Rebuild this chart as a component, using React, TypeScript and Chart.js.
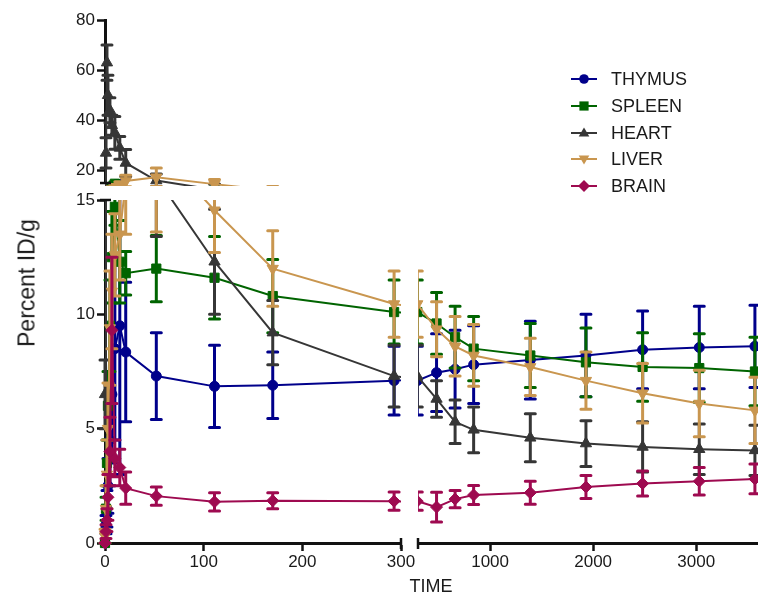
import React, { useEffect, useRef } from "react";
import { Chart, registerables } from "chart.js";

Chart.register(...registerables);

// ---------------- data ----------------
const TIMES = [0, 1, 2, 3, 5, 7, 10, 15, 21, 52, 111, 170, 293, 480, 660, 840, 1390, 1930, 2480, 3030, 3570];

const THYMUS = [0, 0.8, 1.5, 2.5, 4.5, 6.5, 8.5, 9.5, 8.35, 7.3, 6.85, 6.9, 7.1, 7.45, 7.6, 7.8, 8.0, 8.2, 8.45, 8.55, 8.6];
const THYMUS_ERR = [0, 0.4, 0.8, 1.2, 2, 3, 4, 6.5, 3.05, 1.9, 1.8, 1.45, 1.5, 1.7, 1.7, 1.7, 1.7, 1.8, 1.7, 1.8, 1.8];

const SPLEEN = [0, 1.5, 3.5, 6, 9.5, 12.5, 14.7, 12.3, 11.8, 12.0, 11.6, 10.8, 10.1, 9.6, 9.0, 8.5, 8.2, 7.9, 7.7, 7.65, 7.5];
const SPLEEN_ERR = [0, 0.5, 1, 1.5, 2, 2, 0.8, 1.8, 0.95, 1.45, 1.8, 1.6, 1.4, 1.35, 1.35, 1.4, 1.4, 1.5, 1.5, 1.5, 1.5];

const HEART = [6.5, 27, 63, 50, 44, 38, 35, 29, 23, 16, 12.3, 9.2, 7.3, 6.3, 5.3, 4.95, 4.6, 4.35, 4.2, 4.1, 4.05];
const HEART_ERR = [1.5, 6, 7, 8, 5, 4, 6.5, 4.5, 5.4, 2.6, 2.3, 1.4, 1.35, 0.8, 0.95, 1.0, 1.05, 1.0, 1.1, 1.1, 1.1];

const LIVER = [0.3, 1.5, 3, 5, 9.4, 11, 12.6, 13.5, 15.8, 17.3, 14.55, 12.0, 10.45, 9.35, 8.6, 8.2, 7.7, 7.1, 6.55, 6.1, 5.8];
const LIVER_ERR = [0.3, 1, 1.5, 2, 2.5, 2.5, 1.8, 2, 2.3, 3.7, 1.85, 1.65, 1.45, 1.2, 1.3, 1.35, 1.25, 1.25, 1.3, 1.45, 1.45];

const BRAIN = [0, 0.5, 1, 2, 4, 9.3, 3.7, 3.3, 2.4, 2.05, 1.8, 1.85, 1.83, 1.57, 1.92, 2.1, 2.2, 2.45, 2.6, 2.7, 2.8];
const BRAIN_ERR = [0, 0.3, 0.5, 1, 1.5, 3.2, 0.8, 0.8, 0.7, 0.4, 0.4, 0.35, 0.4, 0.65, 0.38, 0.42, 0.5, 0.5, 0.55, 0.6, 0.65];

const SERIES_NAMES = ["THYMUS", "SPLEEN", "HEART", "LIVER", "BRAIN"];

const X_TICKS_LEFT = [0, 100, 200, 300];
const X_TICKS_RIGHT = [1000, 2000, 3000];
const Y_TICKS_LOW = [0, 5, 10, 15];
const Y_TICKS_HIGH = [20, 40, 60, 80];

const X_TITLE = "TIME";
const Y_TITLE = "Percent ID/g";

// ---------------- styles ----------------
const FONT = "'Liberation Sans', Arial, Helvetica, sans-serif";
const TEXT = "#1a1a1a";
const AXIS = "#111111";

const SERIES = [
  { name: SERIES_NAMES[0], values: THYMUS, errors: THYMUS_ERR, color: "#00008B", style: "circle", radius: 5, rotation: 0, order: 4 },
  { name: SERIES_NAMES[1], values: SPLEEN, errors: SPLEEN_ERR, color: "#006400", style: "rect", radius: 6.5, rotation: 0, order: 3 },
  { name: SERIES_NAMES[2], values: HEART, errors: HEART_ERR, color: "#363636", style: "triangle", radius: 6.5, rotation: 0, order: 2 },
  { name: SERIES_NAMES[3], values: LIVER, errors: LIVER_ERR, color: "#C9964F", style: "triangle", radius: 6.5, rotation: 180, order: 1 },
  { name: SERIES_NAMES[4], values: BRAIN, errors: BRAIN_ERR, color: "#9E0A50", style: "rectRot", radius: 6, rotation: 0, order: 0 },
];

const W = 758;
const H = 595;

type Side = "left" | "right" | "top" | "bottom";
interface Panel {
  xMin: number; xMax: number; yMin: number; yMax: number;
  area: { left: number; top: number; right: number; bottom: number };
  showX: boolean; showY: boolean;
  xTicks: number[]; yTicks: number[];
  clip: { left: number; top: number; right: number; bottom: number };
  breaks: Side[];
}

const PANELS: Panel[] = [
  {
    xMin: 0, xMax: 300, yMin: 0, yMax: 15,
    area: { left: 105, top: 200, right: 401, bottom: 543 },
    showX: true, showY: true, xTicks: X_TICKS_LEFT, yTicks: Y_TICKS_LOW,
    clip: { left: 12, top: 0, right: 0, bottom: 12 }, breaks: ["right", "top"],
  },
  {
    xMin: 300, xMax: 3600, yMin: 0, yMax: 15,
    area: { left: 418, top: 200, right: 758, bottom: 543 },
    showX: true, showY: false, xTicks: X_TICKS_RIGHT, yTicks: Y_TICKS_LOW,
    clip: { left: 0, top: 0, right: 12, bottom: 12 }, breaks: ["left"],
  },
  {
    xMin: 0, xMax: 300, yMin: 15, yMax: 80,
    area: { left: 105, top: 20, right: 401, bottom: 183 },
    showX: false, showY: true, xTicks: X_TICKS_LEFT, yTicks: Y_TICKS_HIGH,
    clip: { left: 12, top: 12, right: 0, bottom: 3 }, breaks: ["bottom"],
  },
];

// ---------------- plugins ----------------
const errorBarPlugin = {
  id: "errorBars",
  beforeDatasetDraw(chart: any, args: any, opts: any) {
    const ds = chart.data.datasets[args.index];
    const meta = args.meta;
    const errs: number[] = ds.errors;
    if (!errs) return;
    const { ctx, chartArea: a } = chart;
    const c = opts.clip || { left: 0, top: 0, right: 0, bottom: 0 };
    ctx.save();
    ctx.beginPath();
    ctx.rect(a.left - c.left, a.top - c.top, a.right - a.left + c.left + c.right, a.bottom - a.top + c.top + c.bottom);
    ctx.clip();
    ctx.strokeStyle = ds.borderColor;
    const xs = meta.xScale;
    const ys = meta.yScale;
    ds.data.forEach((p: any, i: number) => {
      const e = errs[i];
      if (!e) return;
      const x = xs.getPixelForValue(p.x);
      if (x < a.left - 20 || x > a.right + 20) return;
      const yTop = ys.getPixelForValue(p.y + e);
      const yBot = ys.getPixelForValue(p.y - e);
      ctx.lineWidth = 3;
      ctx.lineCap = "butt";
      ctx.beginPath();
      ctx.moveTo(x, yTop);
      ctx.lineTo(x, yBot);
      ctx.stroke();
      ctx.lineCap = "round";
      ctx.beginPath();
      ctx.moveTo(x - 5, yTop);
      ctx.lineTo(x + 5, yTop);
      ctx.moveTo(x - 5, yBot);
      ctx.lineTo(x + 5, yBot);
      ctx.stroke();
    });
    ctx.restore();
  },
};

const breakPlugin = {
  id: "breakMarks",
  afterDraw(chart: any, _args: any, opts: any) {
    const sides: Side[] = opts.sides || [];
    const { ctx, chartArea: a } = chart;
    ctx.save();
    ctx.strokeStyle = AXIS;
    ctx.lineWidth = 2.5;
    ctx.lineCap = "butt";
    sides.forEach((s) => {
      ctx.beginPath();
      if (s === "left" || s === "right") {
        const x = s === "left" ? a.left : a.right;
        ctx.moveTo(x, a.bottom - 5);
        ctx.lineTo(x, a.bottom + 6);
      } else {
        const y = s === "top" ? a.top : a.bottom;
        ctx.moveTo(a.left - 5, y);
        ctx.lineTo(a.left + 6, y);
      }
      ctx.stroke();
    });
    ctx.restore();
  },
};

function makeConfig(p: Panel): any {
  const tickFont = { family: FONT, size: 17 };
  return {
    type: "line",
    data: {
      datasets: SERIES.map((s) => ({
        label: s.name,
        data: TIMES.map((t, i) => ({ x: t, y: s.values[i] })),
        errors: s.errors,
        borderColor: s.color,
        backgroundColor: s.color,
        pointBackgroundColor: s.color,
        pointBorderColor: s.color,
        pointStyle: s.style,
        pointRotation: s.rotation,
        pointRadius: s.radius,
        pointBorderWidth: 1,
        borderWidth: 2,
        tension: 0,
        fill: false,
        clip: p.clip,
        order: s.order,
      })),
    },
    options: {
      responsive: false,
      animation: false,
      events: [],
      layout: {
        autoPadding: false,
        padding: {
          left: p.showY ? 0 : p.area.left,
          right: W - p.area.right,
          top: p.area.top,
          bottom: p.showX ? 0 : H - p.area.bottom,
        },
      },
      plugins: {
        legend: { display: false },
        tooltip: { enabled: false },
        errorBars: { clip: p.clip },
        breakMarks: { sides: p.breaks },
      },
      scales: {
        x: {
          type: "linear",
          display: p.showX,
          min: p.xMin,
          max: p.xMax,
          afterBuildTicks: (s: any) => { s.ticks = p.xTicks.map((v) => ({ value: v })); },
          afterFit: (s: any) => {
            s.height = p.showX ? H - p.area.bottom : 0;
            s.paddingLeft = 0; s.paddingRight = 0; s.paddingTop = 0; s.paddingBottom = 0;
          },
          grid: { display: true, drawOnChartArea: false, drawTicks: true, tickLength: 8, tickWidth: 2.5, tickColor: AXIS },
          border: { display: true, color: AXIS, width: 3 },
          ticks: { font: tickFont, color: TEXT, padding: 1, maxRotation: 0, autoSkip: false, callback: (v: any) => String(v) },
        },
        y: {
          type: "linear",
          display: p.showY,
          min: p.yMin,
          max: p.yMax,
          afterBuildTicks: (s: any) => { s.ticks = p.yTicks.map((v) => ({ value: v })); },
          afterFit: (s: any) => {
            s.width = p.showY ? p.area.left : 0;
            s.paddingLeft = 0; s.paddingRight = 0; s.paddingTop = 0; s.paddingBottom = 0;
          },
          grid: { display: true, drawOnChartArea: false, drawTicks: true, tickLength: 8, tickWidth: 2.5, tickColor: AXIS },
          border: { display: true, color: AXIS, width: 3 },
          ticks: { font: tickFont, color: TEXT, padding: 2, autoSkip: false, callback: (v: any) => String(v) },
        },
      },
    },
    plugins: [errorBarPlugin, breakPlugin],
  };
}

function LegendIcon({ s }: { s: (typeof SERIES)[number] }) {
  const cx = 15, cy = 8;
  let marker: React.ReactNode = null;
  if (s.style === "circle") marker = <circle cx={cx} cy={cy} r={4.8} fill={s.color} />;
  else if (s.style === "rect") marker = <rect x={cx - 4.6} y={cy - 4.6} width={9.2} height={9.2} fill={s.color} />;
  else if (s.style === "triangle" && s.rotation === 0)
    marker = <polygon points={`${cx},${cy - 5.5} ${cx + 5.3},${cy + 3.5} ${cx - 5.3},${cy + 3.5}`} fill={s.color} />;
  else if (s.style === "triangle")
    marker = <polygon points={`${cx},${cy + 5.5} ${cx + 5.3},${cy - 3.5} ${cx - 5.3},${cy - 3.5}`} fill={s.color} />;
  else marker = <polygon points={`${cx},${cy - 6} ${cx + 6},${cy} ${cx},${cy + 6} ${cx - 6},${cy}`} fill={s.color} />;
  return (
    <svg width={30} height={16} style={{ display: "block" }}>
      <line x1={2} y1={cy} x2={28} y2={cy} stroke={s.color} strokeWidth={2} />
      {marker}
    </svg>
  );
}

export default function App() {
  const r0 = useRef<HTMLCanvasElement>(null);
  const r1 = useRef<HTMLCanvasElement>(null);
  const r2 = useRef<HTMLCanvasElement>(null);
  const refs = [r0, r1, r2];

  useEffect(() => {
    const charts = PANELS.map((p, i) => new Chart(refs[i].current as HTMLCanvasElement, makeConfig(p)));
    return () => charts.forEach((c) => c.destroy());
  }, []);

  return (
    <div style={{ position: "absolute", left: 0, top: 0, width: W, height: H, overflow: "hidden", background: "#ffffff", fontFamily: FONT, color: TEXT }}>
      {PANELS.map((_, i) => (
        <canvas key={i} ref={refs[i]} width={W} height={H} style={{ position: "absolute", left: 0, top: 0, width: W, height: H }} />
      ))}
      <div style={{ position: "absolute", left: 27, top: 283, transform: "translate(-50%, -50%) rotate(-90deg)", fontSize: 23, whiteSpace: "nowrap", lineHeight: 1 }}>
        {Y_TITLE}
      </div>
      <div style={{ position: "absolute", left: 431, top: 586, transform: "translate(-50%, -50%)", fontSize: 18, whiteSpace: "nowrap", lineHeight: 1 }}>
        {X_TITLE}
      </div>
      {SERIES.map((s, i) => (
        <div key={s.name} style={{ position: "absolute", left: 569, top: 79 + i * 26.8, transform: "translateY(-50%)", display: "flex", alignItems: "center" }}>
          <LegendIcon s={s} />
          <span style={{ marginLeft: 12, fontSize: 18, lineHeight: 1, whiteSpace: "nowrap" }}>{s.name}</span>
        </div>
      ))}
    </div>
  );
}
